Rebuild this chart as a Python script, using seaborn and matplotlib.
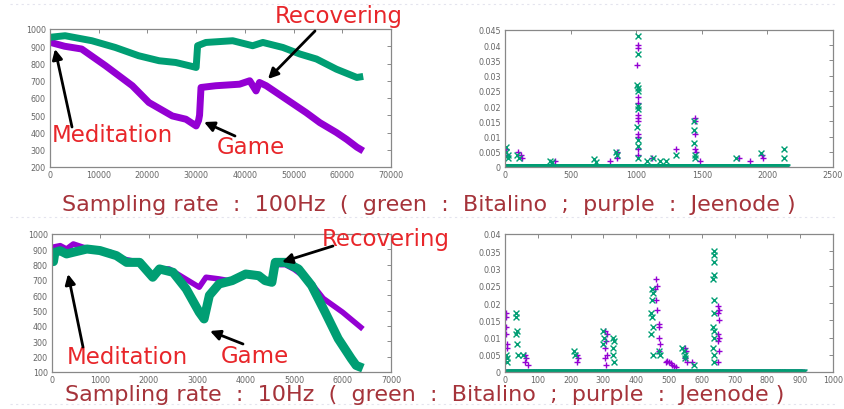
import numpy as np
import pandas as pd
import matplotlib
matplotlib.use("Agg")
import matplotlib.pyplot as plt
import seaborn as sns

# ---------------- data ----------------
# 100 Hz recording: attention level over samples
hz100_x_bitalino = [0, 3100, 8600, 13400, 18200, 22400, 25800, 28600, 30000, 30300,
                    32000, 37500, 41600, 43700, 47800, 51300, 54700, 58800, 63000, 64300]
hz100_y_bitalino = [952, 961, 932, 893, 845, 816, 806, 787, 777, 903,
                    922, 932, 903, 922, 893, 855, 826, 767, 719, 725]
hz100_x_jeenode = [0, 3000, 6500, 11400, 16900, 20300, 25100, 27900, 30000, 30500,
                   30700, 31000, 34000, 38900, 41000, 42300, 43000, 44400, 48500,
                   52600, 55400, 58800, 60900, 63000, 64300]
hz100_y_jeenode = [923, 900, 884, 787, 671, 574, 496, 477, 438, 470,
                   500, 661, 671, 680, 700, 641, 690, 671, 593,
                   515, 457, 400, 360, 315, 293]

# 10 Hz recording
hz10_x_bitalino = [0, 30, 60, 170, 300, 440, 720, 990, 1330, 1540, 1810, 2080, 2220,
                   2500, 2770, 3040, 3140, 3250, 3450, 3720, 4000, 4270, 4400, 4540,
                   4610, 4820, 5090, 5360, 5640, 5910, 6180, 6280, 6420]
hz10_y_bitalino = [850, 820, 880, 891, 870, 881, 902, 892, 859, 815, 815, 718, 772,
                   750, 642, 490, 446, 600, 674, 696, 739, 728, 696, 685,
                   815, 815, 772, 664, 490, 317, 187, 143, 125]
hz10_x_jeenode = [0, 170, 300, 440, 650, 990, 1200, 1470, 1810, 2080, 2220, 2420,
                  2700, 3040, 3180, 3450, 3650, 3720, 4000, 4270, 4400, 4540, 4610,
                  4820, 5000, 5300, 5600, 6000, 6420]
hz10_y_jeenode = [913, 924, 902, 935, 913, 892, 881, 837, 815, 718, 772, 772,
                  718, 653, 718, 707, 696, 696, 739, 728, 696, 685, 800,
                  800, 770, 700, 580, 490, 380]

# 100 Hz spectrum: nonzero bins (index, magnitude); every other bin ~0
spec100_end = 2150
spec100_bitalino = [(5, 0.0066), (10, 0.005), (20, 0.004), (25, 0.003), (95, 0.004), (110, 0.003),
                    (340, 0.002), (360, 0.0015), (680, 0.0025), (690, 0.0015), (845, 0.005), (850, 0.004),
                    (1010, 0.043), (1010, 0.037), (1008, 0.027), (1010, 0.026), (1012, 0.025),
                    (1010, 0.020), (1012, 0.019), (1008, 0.013), (1012, 0.009), (1010, 0.007),
                    (1010, 0.003), (1080, 0.002), (1130, 0.003), (1180, 0.002), (1230, 0.002),
                    (1300, 0.004), (1440, 0.015), (1442, 0.012), (1440, 0.008), (1445, 0.004),
                    (1445, 0.003), (1760, 0.003), (1950, 0.0045), (2130, 0.006), (2130, 0.003)]
spec100_jeenode = [(5, 0.006), (15, 0.004), (100, 0.005), (120, 0.004), (130, 0.003),
                   (380, 0.002), (800, 0.002), (850, 0.005), (855, 0.003),
                   (1012, 0.040), (1012, 0.039), (1008, 0.0335), (1010, 0.023), (1010, 0.021),
                   (1010, 0.017), (1012, 0.016), (1010, 0.015), (1012, 0.011), (1010, 0.010),
                   (1012, 0.006), (1010, 0.004), (1120, 0.003), (1300, 0.006), (1450, 0.016),
                   (1448, 0.015), (1450, 0.011), (1450, 0.006), (1452, 0.005), (1490, 0.002),
                   (1780, 0.003), (1870, 0.002), (1960, 0.004), (1965, 0.003)]

# 10 Hz spectrum
spec10_end = 913
spec10_bitalino = [(3, 0.005), (5, 0.004), (5, 0.003), (35, 0.017), (35, 0.016), (37, 0.012),
                   (35, 0.011), (38, 0.008), (40, 0.005), (55, 0.005), (210, 0.006), (212, 0.005),
                   (300, 0.012), (302, 0.010), (300, 0.008), (330, 0.010), (332, 0.009),
                   (330, 0.007), (330, 0.005), (332, 0.003), (447, 0.024), (450, 0.023),
                   (448, 0.021), (445, 0.017), (447, 0.016), (450, 0.013), (445, 0.011),
                   (450, 0.005), (470, 0.006), (472, 0.005), (540, 0.007), (545, 0.006),
                   (548, 0.005), (550, 0.004), (575, 0.002), (636, 0.035), (638, 0.034),
                   (636, 0.032), (638, 0.028), (635, 0.027), (638, 0.021), (636, 0.017),
                   (634, 0.013), (638, 0.012), (636, 0.010), (634, 0.007), (638, 0.005),
                   (636, 0.003)]
spec10_jeenode = [(2, 0.017), (3, 0.016), (4, 0.013), (3, 0.011), (5, 0.008), (6, 0.007),
                  (60, 0.005), (65, 0.004), (62, 0.003), (70, 0.002), (220, 0.005),
                  (222, 0.004), (220, 0.003), (305, 0.012), (310, 0.011), (308, 0.009),
                  (305, 0.007), (310, 0.005), (306, 0.004), (308, 0.002), (460, 0.027),
                  (462, 0.025), (458, 0.024), (460, 0.021), (462, 0.018), (470, 0.014),
                  (468, 0.013), (470, 0.010), (472, 0.008), (470, 0.006), (490, 0.003),
                  (495, 0.0032), (500, 0.0028), (505, 0.0025), (510, 0.002), (515, 0.0018),
                  (520, 0.0015), (548, 0.007), (552, 0.006), (550, 0.004), (555, 0.003),
                  (570, 0.003), (650, 0.019), (652, 0.018), (650, 0.017), (652, 0.015),
                  (650, 0.011), (652, 0.010), (650, 0.009), (652, 0.006), (650, 0.003)]

captions = ["Sampling rate  :  100Hz  (  green  :  Bitalino  ;  purple  :  Jeenode )",
            "Sampling rate  :  10Hz  (  green  :  Bitalino  ;  purple  :  Jeenode )"]

GREEN = "#009e73"
PURPLE = "#9400d3"
RED = "#e8262a"
CAPTION = "#a5333a"

sns.set_style("white")
plt.rcParams["font.family"] = ["DejaVu Sans"]

fig = plt.figure(figsize=(8.45, 4.10), dpi=100)
W, H = 845, 410


def place(l, t, r, b):
    return fig.add_axes([l / W, 1 - b / H, (r - l) / W, (b - t) / H])


def style(ax, xt, yt, ylabels=None):
    ax.set_xticks(xt)
    ax.set_yticks(yt)
    ax.set_xticklabels([str(v) for v in xt])
    ax.set_yticklabels(ylabels if ylabels else [str(v) for v in yt])
    ax.tick_params(direction="in", length=3, width=0.6, colors="#777777",
                   labelsize=5.8, labelcolor="#666666", top=True, right=True, pad=3)
    ax.tick_params(axis="x", pad=2.5)
    for s in ax.spines.values():
        s.set_color("#888888")
        s.set_linewidth(0.9)
    ax.set_xlabel("")
    ax.set_ylabel("")


def line_panel(ax, xb, yb, xj, yj, lwb, lwj, xt, yt):
    sns.lineplot(x=xj, y=yj, ax=ax, color=PURPLE, lw=lwj, sort=False, solid_capstyle="butt")
    sns.lineplot(x=xb, y=yb, ax=ax, color=GREEN, lw=lwb, sort=False, solid_capstyle="butt")
    ax.set_xlim(xt[0], xt[-1])
    ax.set_ylim(yt[0], yt[-1])
    style(ax, xt, yt)


def spec_frame(end, peaks):
    base = np.arange(0, end + 1, 3)
    xs = list(base) + [p[0] for p in peaks]
    ys = [0.0] * len(base) + [p[1] for p in peaks]
    return pd.DataFrame({"bin": xs, "mag": ys})


def spec_panel(ax, end, pb, pj, xt, yt, ylabels):
    dj = spec_frame(end, pj)
    db = spec_frame(end, pb)
    sns.scatterplot(data=dj, x="bin", y="mag", ax=ax, color=PURPLE, marker="+",
                    s=20, linewidth=1.0)
    sns.scatterplot(data=db, x="bin", y="mag", ax=ax, color=GREEN, marker="x",
                    s=18, linewidth=1.0)
    ax.set_xlim(xt[0], xt[-1])
    ax.set_ylim(yt[0], yt[-1])
    style(ax, xt, yt, ylabels)


ax1 = place(50, 30, 391, 168)
line_panel(ax1, hz100_x_bitalino, hz100_y_bitalino, hz100_x_jeenode, hz100_y_jeenode,
           5.0, 5.0, list(range(0, 70001, 10000)), list(range(200, 1001, 100)))

ax2 = place(505, 31, 833, 168)
yt2 = [round(0.005 * i, 3) for i in range(10)]
spec_panel(ax2, spec100_end, spec100_bitalino, spec100_jeenode,
           list(range(0, 2501, 500)), yt2, ["0"] + [f"{v:g}" for v in yt2[1:]])

ax3 = place(52, 235, 391, 373)
line_panel(ax3, hz10_x_bitalino, hz10_y_bitalino, hz10_x_jeenode, hz10_y_jeenode,
           6.5, 4.0, list(range(0, 7001, 1000)), list(range(100, 1001, 100)))

ax4 = place(505, 235, 833, 373)
yt4 = [round(0.005 * i, 3) for i in range(9)]
spec_panel(ax4, spec10_end, spec10_bitalino, spec10_jeenode,
           list(range(0, 1001, 100)), yt4, ["0"] + [f"{v:g}" for v in yt4[1:]])

# overlay in pixel coordinates for captions and callouts
ov = fig.add_axes([0, 0, 1, 1], facecolor="none")
ov.set_xlim(0, W)
ov.set_ylim(H, 0)
ov.axis("off")

for yy in (5, 218, 405):
    ov.plot([10, 835], [yy, yy], color="#e4e4ee", lw=0.8, ls=(0, (2, 3)))

ov.text(62, 211, captions[0], color=CAPTION, fontsize=16, ha="left", va="baseline")
ov.text(65, 401, captions[1], color=CAPTION, fontsize=16, ha="left", va="baseline")

callouts = [
    ("Recovering", 339, 17, (315, 32), (268, 80)),
    ("Meditation", 112, 136, (72, 128), (55, 50)),
    ("Game", 251, 148, (235, 137), (204, 123)),
    ("Recovering", 386, 240, (333, 247), (282, 263)),
    ("Meditation", 127, 358, (83, 348), (68, 275)),
    ("Game", 255, 357, (243, 345), (210, 332)),
]
for label, tx, ty, start, end in callouts:
    ov.text(tx, ty, label, color=RED, fontsize=16.5, ha="center", va="center")
    ov.annotate("", xy=end, xytext=start,
                arrowprops=dict(arrowstyle="-|>,head_length=0.6,head_width=0.3",
                                color="black", lw=2.0, shrinkA=0, shrinkB=0))

fig.savefig("out.png", dpi=100, facecolor="white")
